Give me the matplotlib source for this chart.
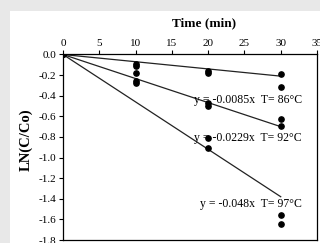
import matplotlib.pyplot as plt
from matplotlib.patches import Rectangle
from matplotlib.ticker import FormatStrFormatter

plt.rcParams['font.family'] = ['Liberation Serif', 'DejaVu Serif']
plt.rcParams['axes.unicode_minus'] = False

# measured points, ln(C/Co) vs time (min)
t86 = [0, 10, 10, 20, 20, 30, 30]
y86 = [0, -0.09, -0.11, -0.16, -0.18, -0.19, -0.32]
t92 = [0, 10, 10, 20, 20, 30, 30]
y92 = [0, -0.18, -0.26, -0.47, -0.50, -0.63, -0.69]
t97 = [0, 10, 20, 20, 30, 30]
y97 = [0, -0.28, -0.81, -0.91, -1.56, -1.64]

# fitted lines as drawn (start / end)
line_t = [0, 30]
line86 = [0, -0.21]
line92 = [0, -0.70]
line97 = [0, -1.38]

labels = ["y = -0.0085x  T= 86\u00b0C", "y = -0.0229x  T= 92\u00b0C", "y = -0.048x  T= 97\u00b0C"]
label_y = [-0.44, -0.81, -1.45]

fig = plt.figure(figsize=(3.2, 2.43), dpi=100)
fig.patch.set_facecolor('#e8e8e8')
bg = Rectangle((10/320, 0), 1, 1 - 11/243, transform=fig.transFigure,
               facecolor='white', edgecolor='none', zorder=-5)
fig.add_artist(bg)

ax = fig.add_axes([63/320, 1 - 240/243, 254/320, 185.5/243])
ax.set_zorder(2)
ax.set_facecolor('white')

for tt, yy in [(t86, y86), (t92, y92), (t97, y97)]:
    ax.plot(tt, yy, 'o', color='black', markersize=3.8, zorder=3)
for ln in [line86, line92, line97]:
    ax.plot(line_t, ln, '-', color='#222222', linewidth=0.9)

for lab, ly in zip(labels, label_y):
    ax.text(32.9, ly, lab, ha='right', va='center', fontsize=8.5, zorder=4)

ax.set_xlim(0, 35)
ax.set_ylim(-1.8, 0)
ax.set_xticks(range(0, 36, 5))
ax.set_yticks([0, -0.2, -0.4, -0.6, -0.8, -1.0, -1.2, -1.4, -1.6, -1.8])
ax.yaxis.set_major_formatter(FormatStrFormatter('%.1f'))
ax.xaxis.tick_top()
ax.tick_params(axis='both', direction='out', length=3, width=0.8, labelsize=8, pad=2)
for s in ax.spines.values():
    s.set_linewidth(0.9)

fig.text(204/320, 1 - 23/243, "Time (min)", ha='center', va='center', fontsize=9.5, fontweight='bold')
fig.text(26/320, 1 - 140/243, "LN(C/Co)", ha='center', va='center', rotation=90,
         fontsize=10.5, fontweight='bold')

fig.savefig('out.png', dpi=100, facecolor=fig.get_facecolor())
